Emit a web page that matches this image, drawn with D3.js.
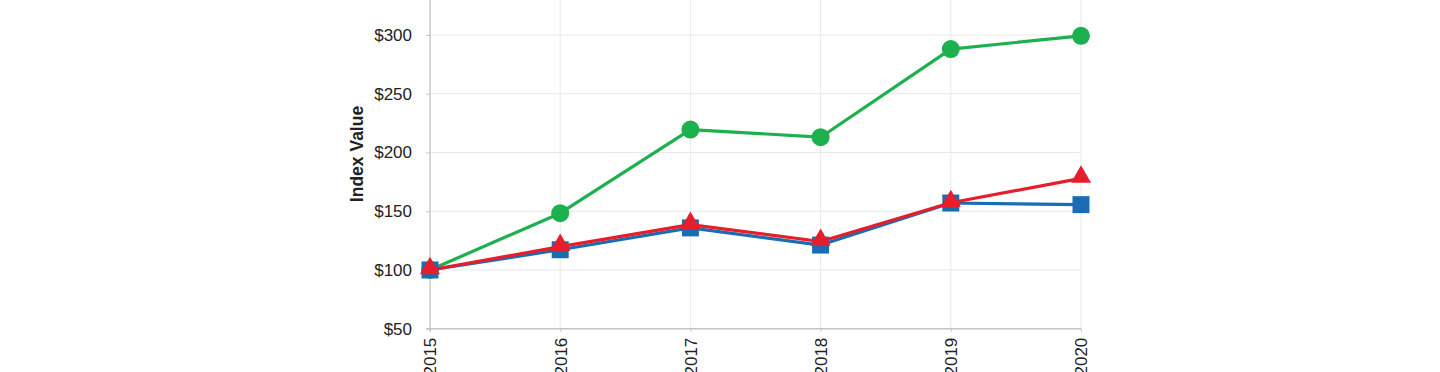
<!DOCTYPE html>
<html>
<head>
<meta charset="utf-8">
<script src="https://cdn.jsdelivr.net/npm/d3@7"></script>
<style>
  body { margin: 0; background: #fff; }
  svg { display: block; font-family: "Liberation Sans", Arial, sans-serif; }
</style>
</head>
<body>
<svg id="chart" width="1440" height="372"></svg>
<script>
// chart data
var years = ["2015", "2016", "2017", "2018", "2019", "2020"];
var greenVals = [100, 148.3, 219.5, 213, 288, 299.3];
var blueVals = [100, 117.2, 135.8, 121.2, 157, 155.6];
var redVals = [100, 119.8, 138.6, 124.2, 157.2, 178];
var yTicks = [50, 100, 150, 200, 250, 300];

var series = [
  { name: "green", vals: greenVals, color: "#1db04f", shape: "circle" },
  { name: "blue", vals: blueVals, color: "#1a6db3", shape: "square" },
  { name: "red", vals: redVals, color: "#e61e2b", shape: "triangle" }
];

var svg = d3.select("#chart");

var left = 430, right = 1081, bottom = 328.7;

var x = d3.scalePoint().domain(years).range([left, right]);
var y = d3.scaleLinear().domain([50, 300]).range([bottom, 35]);

// grid
var grid = svg.append("g");
grid.selectAll(".hgrid")
  .data(yTicks.slice(1))
  .enter().append("line")
    .attr("x1", left).attr("x2", right)
    .attr("y1", function(d) { return y(d); })
    .attr("y2", function(d) { return y(d); })
    .attr("stroke", "#e8e8e8").attr("stroke-width", 1);
grid.selectAll(".vgrid")
  .data(years.slice(1))
  .enter().append("line")
    .attr("x1", function(d) { return x(d); })
    .attr("x2", function(d) { return x(d); })
    .attr("y1", 0).attr("y2", bottom)
    .attr("stroke", "#e8e8e8").attr("stroke-width", 1);

// axes
var yAxis = d3.axisLeft(y).tickValues(yTicks).tickSize(4).tickPadding(14)
  .tickFormat(function(d) { return "$" + d; });
var yg = svg.append("g").attr("transform", "translate(" + left + ",0)").call(yAxis);
yg.select(".domain").remove();
yg.selectAll(".tick line").attr("stroke", "#c8c8c8");
yg.selectAll("text").attr("font-size", "17px").attr("fill", "#222");

svg.append("line")
  .attr("x1", left).attr("x2", left).attr("y1", 0).attr("y2", bottom + 3)
  .attr("stroke", "#bdbdbd").attr("stroke-width", 1.2);

var xAxis = d3.axisBottom(x).tickSize(3).tickPadding(6);
var xg = svg.append("g").attr("transform", "translate(0," + bottom + ")").call(xAxis);
xg.select(".domain").attr("stroke", "#c4c4c4").attr("stroke-width", 1.5)
  .attr("d", "M" + (left - 4) + ",0H" + right);
xg.selectAll(".tick line").attr("stroke", "#c4c4c4");
xg.selectAll("text")
  .attr("font-size", "17px").attr("fill", "#222")
  .attr("transform", "rotate(-90)")
  .attr("x", -9).attr("y", 0).attr("dy", "0.35em")
  .style("text-anchor", "end");

svg.append("text")
  .attr("transform", "translate(363,154) rotate(-90)")
  .attr("text-anchor", "middle")
  .attr("font-size", "17.5px").attr("font-weight", "bold").attr("fill", "#222")
  .text("Index Value");

// lines + markers
var line = d3.line()
  .x(function(d, i) { return x(years[i]); })
  .y(function(d) { return y(d); });

var symbols = {
  circle: d3.symbol().type(d3.symbolCircle).size(Math.PI * 81),
  square: d3.symbol().type(d3.symbolSquare).size(17 * 17),
  triangle: d3.symbol().type(d3.symbolTriangle).size(175)
};

series.forEach(function(s) {
  var g = svg.append("g");
  g.append("path")
    .attr("d", line(s.vals))
    .attr("fill", "none")
    .attr("stroke", s.color)
    .attr("stroke-width", 3.2)
    .attr("stroke-linejoin", "round");
  g.selectAll("path.mark")
    .data(s.vals)
    .enter().append("path")
      .attr("class", "mark")
      .attr("d", symbols[s.shape])
      .attr("transform", function(d, i) {
        var dy = s.shape == "triangle" ? -1.5 : 0;
        return "translate(" + x(years[i]) + "," + (y(d) + dy) + ")";
      })
      .attr("fill", s.color);
});
</script>
</body>
</html>
